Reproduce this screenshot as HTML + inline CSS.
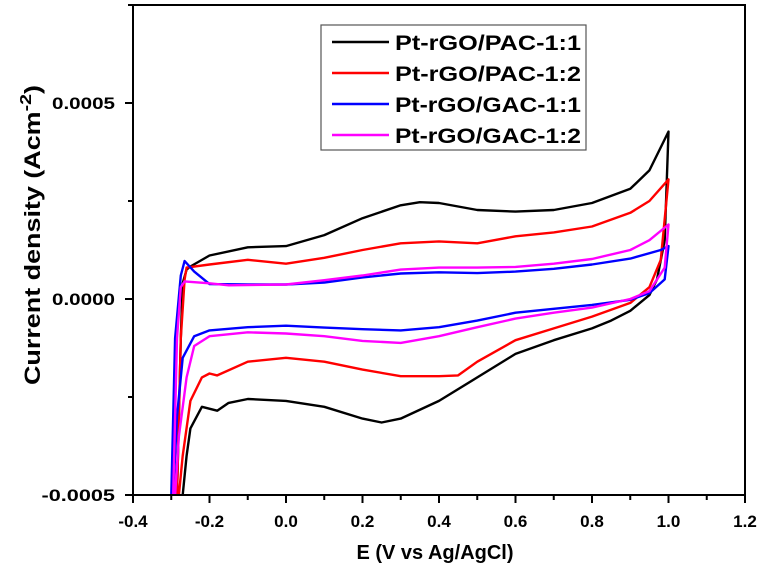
<!DOCTYPE html>
<html><head><meta charset="utf-8"><style>
body{margin:0;background:#fff;}
svg{display:block;font-family:"Liberation Sans",Arial,sans-serif;font-weight:bold;}
</style></head><body>
<svg id="chart" width="761" height="579" viewBox="0 0 761 579"></svg>
<script>
// values in units of 1e-4 A/cm^2, potential in V
const xTickLabels=["-0.4","-0.2","0.0","0.2","0.4","0.6","0.8","1.0","1.2"];
const xTicks=[-0.4,-0.2,0,0.2,0.4,0.6,0.8,1.0,1.2];
const yTicks=[5,0,-5];
const yTickLabels=["0.0005","0.0000","-0.0005"];
const seriesNames=["Pt-rGO/PAC-1:1","Pt-rGO/PAC-1:2","Pt-rGO/GAC-1:1","Pt-rGO/GAC-1:2"];
const seriesColors=["#000000","#ff0000","#0000ff","#ff00ff"];
const blackE=[-0.285,-0.275,-0.27,-0.26,-0.25,-0.2,-0.1,0,0.1,0.2,0.3,0.35,0.4,0.5,0.6,0.7,0.8,0.9,0.95,1.0,0.99,0.97,0.95,0.9,0.85,0.8,0.7,0.6,0.5,0.4,0.3,0.25,0.2,0.1,0,-0.1,-0.15,-0.18,-0.22,-0.25,-0.26,-0.27];
const blackI=[-5,-1,0.4,0.75,0.83,1.11,1.32,1.35,1.63,2.06,2.39,2.47,2.45,2.27,2.23,2.27,2.45,2.81,3.28,4.27,1.5,0.5,0.1,-0.3,-0.55,-0.75,-1.05,-1.4,-2.0,-2.6,-3.05,-3.15,-3.05,-2.75,-2.6,-2.55,-2.65,-2.85,-2.75,-3.3,-4,-5];
const redE=[-0.285,-0.275,-0.265,-0.26,-0.2,-0.1,0,0.1,0.2,0.3,0.4,0.5,0.6,0.7,0.8,0.9,0.95,1.0,0.98,0.95,0.9,0.8,0.7,0.6,0.5,0.45,0.4,0.3,0.2,0.1,0,-0.1,-0.18,-0.2,-0.22,-0.25,-0.27,-0.28];
const redI=[-5,-1,0.5,0.8,0.88,1.0,0.9,1.05,1.25,1.42,1.47,1.42,1.6,1.7,1.85,2.2,2.5,3.05,1.0,0.3,-0.1,-0.45,-0.75,-1.05,-1.6,-1.95,-1.97,-1.97,-1.8,-1.6,-1.5,-1.6,-1.95,-1.9,-2.0,-2.6,-4,-5];
const blueE=[-0.3,-0.29,-0.275,-0.265,-0.24,-0.2,-0.1,0,0.1,0.2,0.3,0.4,0.5,0.6,0.7,0.8,0.9,0.98,1.0,0.99,0.95,0.9,0.8,0.7,0.6,0.5,0.4,0.3,0.2,0.1,0,-0.1,-0.2,-0.24,-0.27,-0.285,-0.295];
const blueI=[-5,-1,0.6,0.97,0.7,0.38,0.37,0.37,0.42,0.55,0.65,0.68,0.66,0.7,0.77,0.88,1.03,1.25,1.35,0.5,0.15,-0.02,-0.15,-0.25,-0.35,-0.55,-0.72,-0.8,-0.77,-0.73,-0.68,-0.72,-0.8,-0.95,-1.5,-3,-5];
const magE=[-0.295,-0.285,-0.275,-0.265,-0.2,-0.15,0,0.1,0.2,0.3,0.4,0.5,0.6,0.7,0.8,0.9,0.95,1.0,0.99,0.95,0.9,0.8,0.7,0.6,0.5,0.4,0.3,0.2,0.1,0,-0.1,-0.2,-0.24,-0.26,-0.28,-0.29];
const magI=[-5,-1,0.3,0.45,0.4,0.35,0.37,0.48,0.6,0.75,0.8,0.8,0.82,0.9,1.02,1.25,1.5,1.9,0.8,0.2,0,-0.22,-0.35,-0.5,-0.72,-0.95,-1.12,-1.07,-0.95,-0.88,-0.85,-0.95,-1.2,-2,-3.5,-5];
const seriesE=[blackE,redE,blueE,magE];
const seriesI=[blackI,redI,blueI,magI];

const X0=133,X1=745,Y0=5,Y1=495;
const xs=v=>X0+(v+0.4)/1.6*(X1-X0);
const ys=v=>Y1-(v+5)/12.5*(Y1-Y0);
const NS="http://www.w3.org/2000/svg";
const svg=document.getElementById('chart');
function mk(tag,attrs,parent){const e=document.createElementNS(NS,tag);for(const k in attrs)e.setAttribute(k,attrs[k]);(parent||svg).appendChild(e);return e;}

const defs=mk('defs',{});const cp=mk('clipPath',{id:'clip'},defs);mk('rect',{x:X0,y:Y0,width:X1-X0,height:Y1-Y0},cp);

const g=mk('g',{'clip-path':'url(#clip)'});


for(let s=0;s<4;s++){
  const E=seriesE[s],I=seriesI[s];
  let d='';
  for(let i=0;i<E.length;i++)d+=(i?'L':'M')+xs(E[i]).toFixed(1)+','+ys(I[i]).toFixed(1);
  const p=mk('path',{d:d,fill:'none',stroke:seriesColors[s],'stroke-width':2.4,'stroke-linejoin':'round'},g);
  
  
}

const fr=mk('rect',{x:X0,y:Y0,width:X1-X0,height:Y1-Y0,fill:'none',stroke:'#000','stroke-width':2});



for(let i=0;i<xTicks.length;i++){
  const x=xs(xTicks[i]);
  mk('line',{x1:x,x2:x,y1:Y1,y2:Y1+8,stroke:'#000','stroke-width':2});
  if(i<xTicks.length-1){const xm=xs(xTicks[i]+0.1);mk('line',{x1:xm,x2:xm,y1:Y1,y2:Y1+5,stroke:'#000','stroke-width':2});}
  const t=mk('text',{x:x,y:527,'text-anchor':'middle','font-size':17,fill:'#000'});
  t.textContent=xTickLabels[i];
  
  
}
for(let i=0;i<yTicks.length;i++){
  const y=ys(yTicks[i]);
  mk('line',{x1:X0-8,x2:X0,y1:y,y2:y,stroke:'#000','stroke-width':2});
  const t=mk('text',{x:115,y:y+6,'text-anchor':'end','font-size':17,fill:'#000',textLength:yTickLabels[i].length*10.5,lengthAdjust:'spacingAndGlyphs'});
  t.textContent=yTickLabels[i];
  
  
}
for(const v of [7.5,2.5,-2.5]){const y=ys(v);mk('line',{x1:X0-5,x2:X0,y1:y,y2:y,stroke:'#000','stroke-width':2});}

const xt=mk('text',{x:435,y:559,'text-anchor':'middle','font-size':20,fill:'#000'});
xt.textContent='E (V vs Ag/AgCl)';


const yt=mk('text',{x:0,y:0,'text-anchor':'middle','font-size':22,fill:'#000',transform:'translate(40,235) rotate(-90)',textLength:300,lengthAdjust:'spacingAndGlyphs'});
yt.innerHTML='Current density (Acm<tspan dy="-9" font-size="16">-2</tspan><tspan dy="9">)</tspan>';



const lg=mk('g',{});


mk('rect',{x:321,y:25,width:265,height:125,fill:'#fff',stroke:'#555','stroke-width':1.2},lg);
for(let s=0;s<4;s++){
  const y=42+s*31;
  const e=mk('g',{},lg);
  
  
  mk('line',{x1:332,x2:389,y1:y,y2:y,stroke:seriesColors[s],'stroke-width':2.6},e);
  const t=mk('text',{x:395,y:y+8,'font-size':21,fill:'#000',textLength:186,lengthAdjust:'spacingAndGlyphs'},e);
  t.textContent=seriesNames[s];
}
</script>
</body></html>
